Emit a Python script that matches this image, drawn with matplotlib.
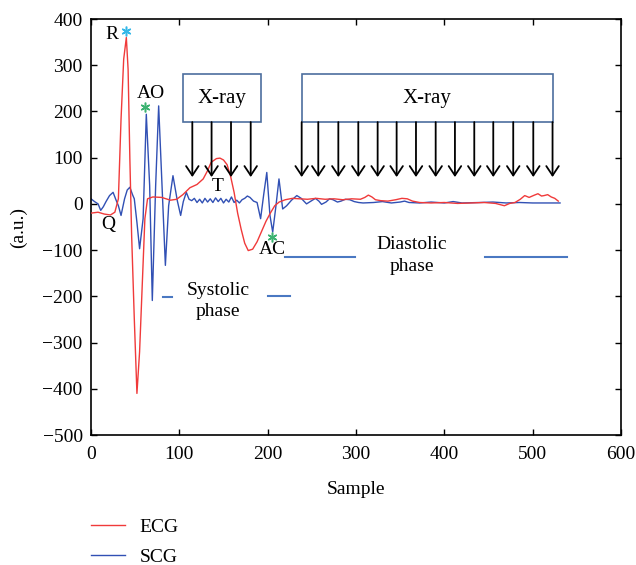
import matplotlib
matplotlib.use("Agg")
import matplotlib.pyplot as plt
from matplotlib.patches import Rectangle

plt.rcParams['font.family'] = ['Liberation Serif', 'DejaVu Serif']
plt.rcParams['font.size'] = 14

# ---------------- data ----------------
ecg_x = [0, 8, 15, 22, 27, 31, 34, 37, 40, 42, 44, 46, 49, 52, 55, 58, 61, 64,
         70, 80, 90, 97, 104, 112, 120, 127, 132, 136, 142, 146, 150, 154, 158,
         162, 166, 170, 174, 178, 183, 188, 193, 198, 203, 208, 213, 220, 228,
         236, 245, 255, 265, 275, 285, 295, 305, 310, 314, 318, 322, 328, 336,
         345, 352, 358, 364, 372, 385, 400, 415, 430, 445, 458, 464, 468, 474,
         480, 486, 491, 496, 502, 506, 510, 513, 517, 521, 525, 529]
ecg_y = [-20, -18, -22, -24, -18, 11, 183, 313, 360, 291, 97, -68, -248, -410,
         -320, -176, -32, 11, 15, 14, 8, 10, 20, 35, 42, 54, 72, 90, 98, 99, 95,
         85, 60, 25, -20, -55, -85, -101, -98, -82, -60, -38, -20, -4, 4, 9, 12,
         11, 10, 12, 10, 11, 9, 11, 10, 14, 19, 15, 9, 7, 6, 9, 12, 11, 6, 3, 2,
         3, 1, 2, 3, 1, -2, -4, 1, 3, 10, 18, 14, 19, 22, 17, 18, 20, 15, 12, 6]

scg_x = [0, 4, 8, 11, 14, 17, 21, 25, 28, 31, 34, 38, 41, 44, 47, 49, 52, 55,
         59, 62.6, 66.4, 69.4, 73.2, 76.6, 80.4, 84.2, 87.9, 92.8, 97.7, 101.5,
         104.5, 107.9, 111, 114, 117, 120, 123, 126, 129, 132, 135, 138, 141,
         144, 147, 150, 153, 156, 159, 162, 165, 168, 171, 174, 177, 180, 184,
         188, 192, 195.5, 199, 202.6, 205.7, 209.4, 212.8, 217, 221.5, 227,
         233, 238, 244, 249, 254, 258, 261, 266, 270, 274, 279, 283, 288, 293,
         298, 303, 308, 320, 330, 340, 350, 355, 360, 372, 385, 400, 410, 420,
         440, 455, 470, 485, 500, 515, 531]
scg_y = [11, 5, 0, -14, -6, 5, 18, 25, 10, -4, -25, 11, 30, 36, 20, 11, -40,
         -97, -32, 194, 40, -209, 40, 212, 40, -133, -4, 61, 7, -25, 5, 25, 10,
         7, 12, 3, 10, 2, 12, 4, 11, 3, 13, 5, 12, 2, 10, 4, 15, 3, 8, 2, 9, 12,
         17, 14, 6, 3, -32, 20, 68, -25, -61, -4, 54, -11, -4, 8, 18, 12, 0, 6,
         12, 6, -1, 4, 11, 9, 4, 6, 10, 9, 5, 3, 2, 3, 5, 2, 4, 6, 3, 2, 4, 2,
         5, 2, 3, 4, 2, 3, 2, 2, 2]

xray_boxes = [(103.7, 192.1), (238.5, 522.7)]   # sample ranges of the boxes
box_bottom, box_top = 177, 281
xray_arrows_1 = [114.7, 136.5, 158.5, 180.8]
xray_arrows_2 = [238.5, 257.3, 280.0, 302.6, 324.5, 346.0, 367.9, 390.2,
                 412.0, 433.9, 455.4, 478.0, 500.7, 522.5]
arrow_tip = 58

xticks = [0, 100, 200, 300, 400, 500, 600]
yticks = [400, 300, 200, 100, 0, -100, -200, -300, -400, -500]

# ---------------- figure ----------------
fig = plt.figure(figsize=(6.36, 5.65), dpi=100)
ax = fig.add_axes([91 / 636, 1 - 435 / 565, 530 / 636, 416 / 565])

red = '#f03a3a'
blue = '#3150b4'
seg_blue = '#4a78c2'
box_col = '#4d6e9e'

l_ecg, = ax.plot(ecg_x, ecg_y, color=red, lw=1.0, label='ECG', zorder=3)
l_scg, = ax.plot(scg_x, scg_y, color=blue, lw=1.0, label='SCG', zorder=2)

ax.set_xlim(0, 600)
ax.set_ylim(-500, 400)
ax.set_xticks(xticks)
ax.set_yticks(yticks)
ax.tick_params(direction='in', length=4, width=1, top=True, right=True,
               labelsize=14, pad=6)
ax.tick_params(axis='x', pad=8)
for s in ax.spines.values():
    s.set_linewidth(1.2)
ax.set_xlabel('Sample', fontsize=14, labelpad=13)
ax.set_ylabel('(a.u.)', fontsize=14, labelpad=11)

# X-ray boxes and arrows
for (x0, x1) in xray_boxes:
    ax.add_patch(Rectangle((x0, box_bottom), x1 - x0, box_top - box_bottom,
                           facecolor='white', edgecolor=box_col, lw=1.2,
                           zorder=4))
    ax.text((x0 + x1) / 2, (box_bottom + box_top) / 2, 'X-ray', ha='center',
            va='center', fontsize=15, zorder=5)
for xa in xray_arrows_1 + xray_arrows_2:
    ax.annotate('', xy=(xa, arrow_tip), xytext=(xa, box_bottom),
                arrowprops=dict(arrowstyle='->,head_length=0.45,head_width=0.3',
                                color='black', lw=1.3, mutation_scale=15,
                                shrinkA=0, shrinkB=0), zorder=5)

# annotations
ax.text(23.8, 367, 'R', ha='center', va='center', fontsize=14)
ax.plot([39.6], [374], marker=(6, 2, 0), color='#35b8e8', ms=7, mew=1.1,
        ls='none')
ax.text(68, 238, 'AO', ha='center', va='center', fontsize=14)
ax.plot([61.5], [209], marker=(6, 2, 0), color='#3cb371', ms=7, mew=1.1,
        ls='none')
ax.text(19.8, -45, 'Q', ha='center', va='center', fontsize=14)
ax.text(143.8, 37, 'T', ha='center', va='center', fontsize=14)
ax.text(205.5, -99, 'AC', ha='center', va='center', fontsize=14)
ax.plot([204.5], [-72], marker=(6, 2, 0), color='#3cb371', ms=7, mew=1.1,
        ls='none')

# phases
ax.text(143.8, -210, 'Systolic\nphase', ha='center', va='center', fontsize=14,
        linespacing=1.35)
ax.plot([81, 92], [-201, -201], color=seg_blue, lw=1.5)
ax.plot([200, 225], [-199, -199], color=seg_blue, lw=1.5)
ax.text(363, -112, 'Diastolic\nphase', ha='center', va='center', fontsize=14,
        linespacing=1.35)
ax.plot([220, 299], [-114, -114], color=seg_blue, lw=1.5)
ax.plot([446, 539], [-114, -114], color=seg_blue, lw=1.5)

fig.legend(handles=[l_ecg, l_scg], loc='center left',
           bbox_to_anchor=(91 / 636, 1 - 542 / 565), frameon=False,
           borderpad=0, borderaxespad=0, handlelength=1.75,
           handletextpad=0.75, labelspacing=0.65, fontsize=14)

fig.savefig('out.png', dpi=100)
